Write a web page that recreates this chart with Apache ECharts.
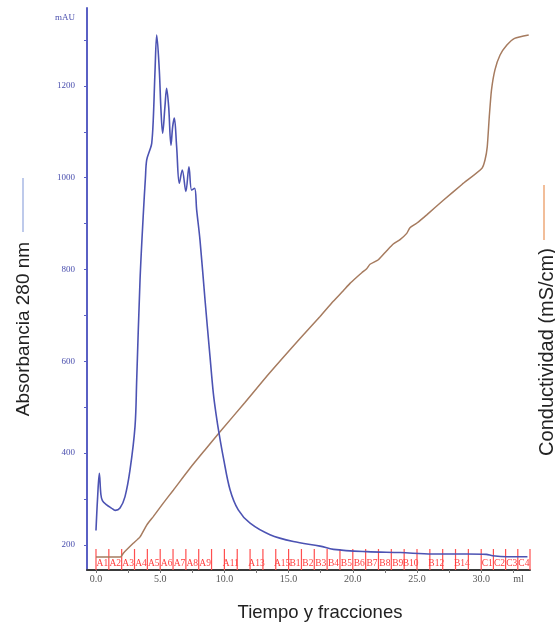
<!DOCTYPE html>
<html>
<head>
<meta charset="utf-8">
<title>Cromatograma</title>
<script src="https://cdn.jsdelivr.net/npm/echarts@6/dist/echarts.min.js"></script>
<style>
  html, body { margin: 0; padding: 0; background: #ffffff; }
  #chart { width: 555px; height: 625px; }
</style>
</head>
<body>
<div id="chart"></div>
<script>
// Absorbance at 280 nm (mAU) versus eluted volume (ml)
const absorbanceVolume = [0.0, 0.12, 0.26, 0.38, 0.5, 0.83, 1.2, 1.5, 1.87, 2.26, 2.65, 3.04, 3.17, 3.43, 3.69, 3.85, 3.95, 4.2, 4.34, 4.46, 4.6, 4.73, 4.93, 5.06, 5.19, 5.37, 5.5, 5.66, 5.84, 5.97, 6.1, 6.28, 6.49, 6.72, 7.0, 7.24, 7.45, 7.68, 7.84, 8.1, 8.49, 8.88, 9.14, 9.35, 9.6, 9.92, 10.44, 11.08, 12.0, 13.55, 15.37, 17.45, 18.5, 21.1, 23.7, 26.2, 28.9, 30.4, 30.9, 32.0, 33.6];
const absorbanceValues = [231, 300, 356, 310, 296, 287, 280, 275, 280, 305, 363, 458, 559, 777, 923, 1000, 1039, 1061, 1075, 1126, 1235, 1311, 1235, 1148, 1097, 1155, 1195, 1155, 1071, 1111, 1130, 1068, 988, 1017, 970, 1024, 973, 977, 930, 864, 734, 610, 530, 485, 440, 390, 320, 276, 247, 222, 207, 197, 190, 185, 183, 180, 180, 179, 176, 174, 174];

// Conductivity (mS/cm) versus eluted volume (ml)
const conductivityVolume = [0, 1.0, 1.9, 2.13, 2.9, 3.43, 3.95, 4.46, 5.24, 6.02, 7.32, 8.5, 9.66, 11.6, 13.5, 15.89, 17.45, 18.48, 19.26, 19.78, 20.3, 20.7, 21.08, 21.34, 21.99, 22.64, 23.15, 23.68, 24.2, 24.45, 24.97, 25.76, 27.05, 28.5, 30.06, 30.3, 30.47, 30.63, 30.8, 31.07, 31.46, 32.0, 32.6, 33.7];
const conductivityValues = [2.3, 2.3, 2.3, 3.0, 4.75, 5.9, 8.0, 9.5, 11.9, 14.2, 18.1, 21.4, 24.6, 29.8, 35.0, 41.2, 45.1, 47.8, 49.7, 51.0, 52.1, 52.9, 53.6, 54.4, 55.2, 56.8, 58.0, 58.8, 59.9, 60.9, 61.7, 63.2, 65.8, 68.6, 71.5, 73.0, 75.3, 80.7, 85.4, 89.0, 91.6, 93.4, 94.6, 95.2];

// Collected fractions: names and their start/end volumes (ml)
const fractionNames = ['A1', 'A2', 'A3', 'A4', 'A5', 'A6', 'A7', 'A8', 'A9', 'A10', 'A11', 'A12', 'A13', 'A14', 'A15',
  'B1', 'B2', 'B3', 'B4', 'B5', 'B6', 'B7', 'B8', 'B9', 'B10', 'B11', 'B12', 'B13', 'B14', 'B15',
  'C1', 'C2', 'C3', 'C4'];
const fractionStart = [0, 1, 2, 3, 4, 5, 6, 7, 8, 9, 10, 11, 12, 13, 14, 15, 16, 17, 18, 19, 20, 21, 22, 23, 24, 25, 26, 27, 28, 29, 30, 30.95, 31.9, 32.85];
const fractionEnd = [1, 2, 3, 4, 5, 6, 7, 8, 9, 10, 11, 12, 13, 14, 15, 16, 17, 18, 19, 20, 21, 22, 23, 24, 25, 26, 27, 28, 29, 30, 30.95, 31.9, 32.85, 33.8];
// Fractions whose name is not printed (no room for the text)
const unlabeledFractions = ['A10', 'A12', 'A14', 'B11', 'B13', 'B15'];

// Axis tick values and labels
const volumeTicks = [0, 2.5, 5, 7.5, 10, 12.5, 15, 17.5, 20, 22.5, 25, 27.5, 30, 32.5];
const volumeLabels = [0, 5, 10, 15, 20, 25, 30];
const volumeUnitPos = 32.9;
const absorbanceTicks = [200, 300, 400, 500, 600, 700, 800, 900, 1000, 1100, 1200, 1300];
const absorbanceLabels = [200, 400, 600, 800, 1000, 1200];
const absorbanceUnitPos = 1350;

const serif = "'Liberation Serif', 'Times New Roman', serif";
const sans = "'Liberation Sans', Arial, sans-serif";

const absorbanceData = absorbanceVolume.map((v, i) => [v, absorbanceValues[i]]);
const conductivityData = conductivityVolume.map((v, i) => [v, conductivityValues[i]]);
const fractionData = fractionStart.map((s, i) => [s, fractionEnd[i]]);

const chart = echarts.init(document.getElementById('chart'), null, { renderer: 'canvas' });

chart.setOption({
  animation: false,
  backgroundColor: '#ffffff',
  grid: { left: 87, right: 25, top: 8, bottom: 55 },
  xAxis: {
    type: 'value',
    min: -0.7,
    max: 33.8,
    axisLine: { show: true, onZero: false, lineStyle: { color: '#3a3a3a', width: 2 } },
    axisTick: { show: true, length: 3, customValues: volumeTicks, lineStyle: { color: '#777777', width: 1 } },
    axisLabel: {
      customValues: volumeLabels.concat([volumeUnitPos]),
      formatter: v => (Math.abs(v - volumeUnitPos) < 1e-6 ? 'ml' : v.toFixed(1)),
      color: '#555555',
      fontFamily: serif,
      fontSize: 10,
      margin: 4
    },
    splitLine: { show: false }
  },
  yAxis: [
    {
      type: 'value',
      min: 145,
      max: 1370,
      position: 'left',
      axisLine: { show: true, onZero: false, lineStyle: { color: '#5a60c4', width: 2 } },
      axisTick: { show: true, length: 3, customValues: absorbanceTicks, lineStyle: { color: '#5a60c4', width: 1 } },
      axisLabel: {
        customValues: absorbanceLabels.concat([absorbanceUnitPos]),
        formatter: v => (v === absorbanceUnitPos ? 'mAU' : String(v)),
        color: '#4a4fae',
        fontFamily: serif,
        fontSize: 9,
        margin: 12
      },
      splitLine: { show: false }
    },
    {
      type: 'value',
      min: 0,
      max: 100,
      show: false,
      splitLine: { show: false }
    }
  ],
  graphic: [
    { type: 'line', shape: { x1: 23, y1: 178, x2: 23, y2: 232 }, style: { stroke: '#a9b9e4', lineWidth: 1.5 } },
    { type: 'text', x: 24, y: 329, rotation: Math.PI / 2,
      style: { text: 'Absorbancia 280 nm', fontFamily: sans, fontSize: 19, fill: '#222222', textAlign: 'center', textVerticalAlign: 'middle' } },
    { type: 'line', shape: { x1: 544, y1: 185, x2: 544, y2: 240 }, style: { stroke: '#eea878', lineWidth: 1.5 } },
    { type: 'text', x: 547, y: 352, rotation: Math.PI / 2,
      style: { text: 'Conductividad (mS/cm)', fontFamily: sans, fontSize: 20, fill: '#222222', textAlign: 'center', textVerticalAlign: 'middle' } },
    { type: 'text', x: 320, y: 613,
      style: { text: 'Tiempo y fracciones', fontFamily: sans, fontSize: 18.5, fill: '#222222', textAlign: 'center', textVerticalAlign: 'middle' } }
  ],
  series: [
    {
      name: 'Fracciones',
      type: 'custom',
      xAxisIndex: 0,
      yAxisIndex: 0,
      clip: false,
      z: 1,
      data: fractionData,
      renderItem: (params, api) => {
        const i = params.dataIndex;
        const base = params.coordSys.y + params.coordSys.height;
        const a = api.coord([api.value(0), 0])[0];
        const b = api.coord([api.value(1), 0])[0];
        const tick = x => ({ type: 'line', shape: { x1: x, y1: base, x2: x, y2: base - 21 }, style: { stroke: '#ff4f4f', lineWidth: 1.2 } });
        const children = [tick(a)];
        if (i === fractionData.length - 1) {
          children.push(tick(b));
        }
        const name = fractionNames[i];
        if (unlabeledFractions.indexOf(name) < 0) {
          children.push({
            type: 'text',
            x: (a + b) / 2,
            y: base - 7,
            style: { text: name, fontFamily: serif, fontSize: 9.5, fill: '#ff3c3c', textAlign: 'center', textVerticalAlign: 'middle' }
          });
        }
        return { type: 'group', children };
      }
    },
    {
      name: 'Conductividad',
      type: 'line',
      xAxisIndex: 0,
      yAxisIndex: 1,
      data: conductivityData,
      smooth: 0.2,
      showSymbol: false,
      z: 3,
      lineStyle: { color: '#a67b5f', width: 1.5 }
    },
    {
      name: 'Absorbancia 280 nm',
      type: 'line',
      xAxisIndex: 0,
      yAxisIndex: 0,
      data: absorbanceData,
      smooth: 0.35,
      showSymbol: false,
      z: 4,
      lineStyle: { color: '#4c53b3', width: 1.6 }
    }
  ]
});
</script>
</body>
</html>
